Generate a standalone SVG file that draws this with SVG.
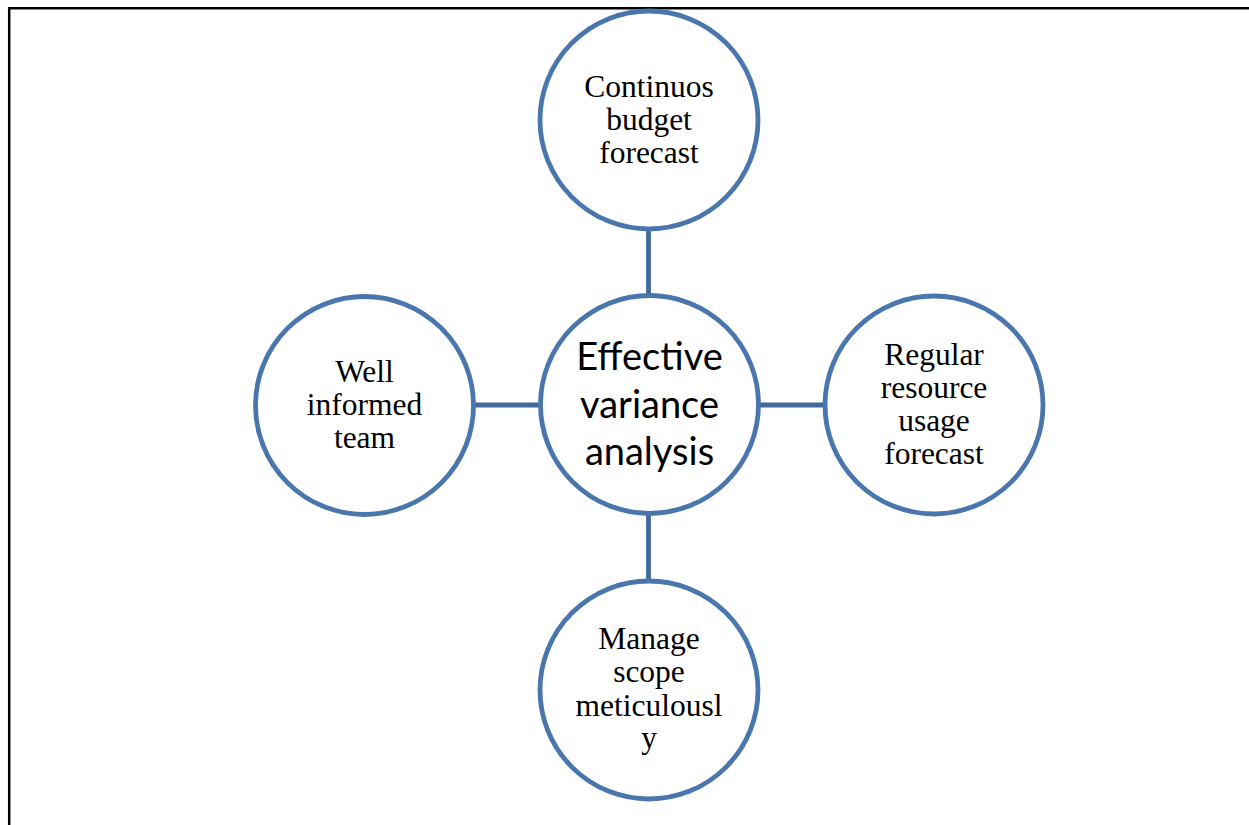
<svg xmlns="http://www.w3.org/2000/svg" width="1249" height="825" viewBox="0 0 1249 825">
  <style>
    .node { fill: #ffffff; stroke: #4a76ae; stroke-width: 4.8; }
    .link { stroke: #41699c; stroke-width: 4.8; fill: none; }
    .frame { stroke: #000000; stroke-width: 2.5; fill: none; }
    .label { font-family: "Liberation Serif", "Times New Roman", serif; font-size: 31.5px; fill: #000000; text-anchor: middle; }
    .hub { font-family: Lato, "Open Sans", "Liberation Sans", sans-serif; font-size: 38px; fill: #000000; text-anchor: middle; }
  </style>
  <rect width="1249" height="825" fill="#ffffff"/>
  <!-- page frame: top and left rules -->
  <path class="frame" d="M9.2,826 V8.2 H1249"/>

  <g id="connectors">
    <line class="link" x1="648.5" y1="230" x2="648.5" y2="295"/>
    <line class="link" x1="648.5" y1="514" x2="648.5" y2="579"/>
    <line class="link" x1="475" y1="405" x2="539" y2="405"/>
    <line class="link" x1="760" y1="405" x2="824" y2="405"/>
  </g>

  <g id="hub">
    <circle class="node" cx="649.5" cy="404.5" r="109"/>
    <text class="hub" x="649.5" y="370">Effective</text>
    <text class="hub" x="649.5" y="418">variance</text>
    <text class="hub" x="649.5" y="465">analysis</text>
  </g>

  <g id="budget-forecast">
    <circle class="node" cx="649" cy="120" r="109"/>
    <text class="label" x="649" y="97">Continuos</text>
    <text class="label" x="649" y="130">budget</text>
    <text class="label" x="649" y="163">forecast</text>
  </g>

  <g id="informed-team">
    <circle class="node" cx="364.5" cy="405.5" r="109"/>
    <text class="label" x="364.5" y="382">Well</text>
    <text class="label" x="364.5" y="415">informed</text>
    <text class="label" x="364.5" y="448">team</text>
  </g>

  <g id="resource-forecast">
    <circle class="node" cx="934" cy="405" r="109"/>
    <text class="label" x="934" y="365">Regular</text>
    <text class="label" x="934" y="398">resource</text>
    <text class="label" x="934" y="431">usage</text>
    <text class="label" x="934" y="464">forecast</text>
  </g>

  <g id="manage-scope">
    <circle class="node" cx="649" cy="690" r="109"/>
    <text class="label" x="649" y="649">Manage</text>
    <text class="label" x="649" y="682">scope</text>
    <text class="label" x="649" y="716">meticulousl</text>
    <text class="label" x="649" y="748">y</text>
  </g>
</svg>
